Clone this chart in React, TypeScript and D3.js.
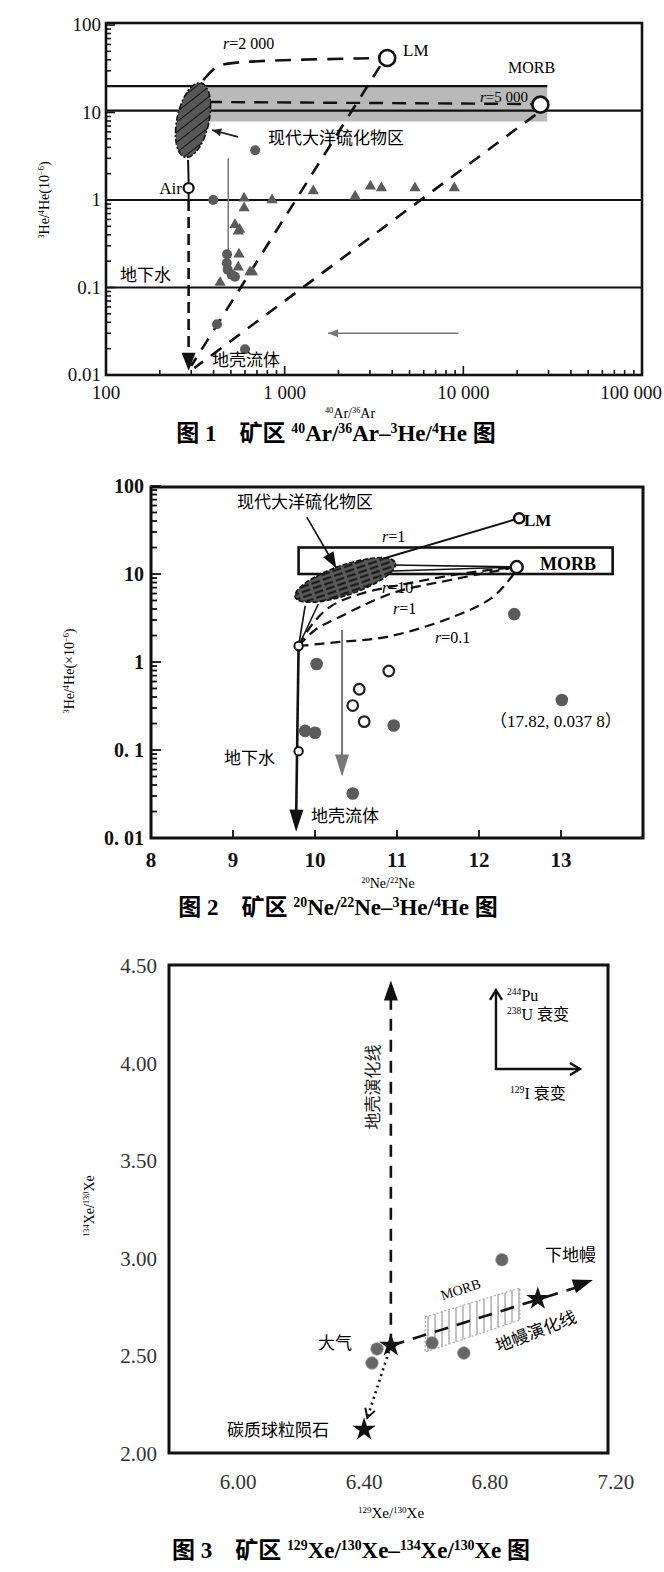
import * as d3 from 'd3';

type P = [number, number];

const FONT = '"Liberation Serif", "Noto Sans CJK SC", serif';

// ---------------- 图1  40Ar/36Ar – 3He/4He ----------------
const arTickVals = [100, 1000, 10000, 100000];
const arTickText = ['100', '1 000', '10 000', '100 000'];
const heTickVals = [0.01, 0.1, 1, 10, 100];
const he1TickText = ['0.01', '0.1', '1', '10', '100'];

const arCircles: P[] = [
  [684, 3.7], [398, 1.0], [476, 0.24], [474, 0.19], [480, 0.16], [505, 0.14], [527, 0.133], [418, 0.038], [600, 0.0197],
];
const arTriangles: P[] = [
  [1446, 1.27], [593, 1.05], [850, 1.0], [593, 0.81], [527, 0.52], [560, 0.46], [550, 0.44], [555, 0.24],
  [550, 0.17], [640, 0.15], [660, 0.15], [435, 0.114], [3020, 1.44], [3480, 1.37], [5360, 1.37], [8900, 1.37], [2480, 1.1],
];
const arBandX = [373, 29500];
const arBandY = [7.9, 20];
const arRefLines = [
  { x0: 100, x1: 29500, y: 20 },
  { x0: 100, x1: 100000, y: 10.5 },
  { x0: 100, x1: 100000, y: 1 },
  { x0: 100, x1: 100000, y: 0.1 },
];
const arR2000: P[] = [[350, 23.5], [403, 32.3], [464, 38.8], [3640, 42]];
const arR5000: P[] = [[373, 13.2], [25000, 12.5]];
const arLmMix: P[] = [[3420, 33.9], [300, 0.0127]];
const arMorbMix: P[] = [[25300, 9.4], [312, 0.012]];
const arSulfide: P = [307, 8.2];
const arSulfideToAir: P[] = [[288, 2.86], [290, 1.6]];
const arAir: P = [290, 1.37];
const arAirSolid: P[] = [[290, 1.2], [290, 1.0]];
const arAirDashed: P[] = [[290, 1.0], [290, 0.0125]];
const arCrustTip: P = [290, 0.0112];
const arLM: P = [3750, 42];
const arMORB: P = [27000, 12.3];
const arGrayDown: P[] = [[483, 3.0], [483, 0.2]];
const arGrayLeft: P[] = [[9380, 0.03], [1750, 0.03]];
const arLabelArrow: P[] = [[548, 5.25], [393, 6.3]];

// ---------------- 图2  20Ne/22Ne – 3He/4He ----------------
const neTickVals = [8, 9, 10, 11, 12, 13];
const he2TickText = ['0. 01', '0. 1', '1', '10', '100'];
const neFilled: P[] = [
  [10.02, 0.95], [9.88, 0.165], [10.0, 0.157], [10.96, 0.19], [10.46, 0.032], [13.01, 0.37], [12.43, 3.5],
];
const neOpen: P[] = [[10.9, 0.79], [10.54, 0.49], [10.46, 0.32], [10.6, 0.21]];
const neAir: P = [9.8, 1.52];
const neGroundwater: P = [9.8, 0.097];
const neCrustTip: P = [9.77, 0.0118];
const neLM: P = [12.49, 43];
const neMORB: P = [12.46, 12.0];
const neMorbBoxX = [9.8, 13.63];
const neMorbBoxY = [10, 20];
const neSulfide: P = [10.37, 8.55];
const neFeeders: P[][] = [
  [[9.8, 1.52], [9.88, 4.33]],
  [[9.8, 1.52], [10.04, 4.56]],
];
const neToLM: P[] = [[10.2, 10], [12.49, 43]];
const neToMORB: P[][] = [
  [[10.95, 12.66], [12.46, 12.0]],
  [[10.95, 10.8], [12.46, 12.0]],
];
const neR10: P[] = [[9.8, 1.52], [9.96, 2.63], [10.18, 4.22], [10.55, 5.93], [11.04, 7.5], [11.85, 10.3], [12.46, 12.0]];
const neR1: P[] = [[9.8, 1.52], [10.0, 2.31], [10.3, 3.25], [10.95, 6.08], [11.65, 8.55], [12.46, 12.0]];
const neR01: P[] = [[9.8, 1.52], [10.3, 1.69], [10.88, 1.93], [11.68, 3.25], [12.17, 5.48], [12.46, 11.1]];
const neGrayArrow: P[] = [[10.33, 2.31], [10.33, 0.05]];
const neLabelArrow: P[] = [[9.9, 44.4], [10.26, 11.7]];

// ---------------- 图3  129Xe/130Xe – 134Xe/130Xe ----------------
const xeXTicks = [6.0, 6.4, 6.8, 7.2];
const xeYTicks = [2.0, 2.5, 3.0, 3.5, 4.0, 4.5];
const xeSamples: P[] = [[6.838, 2.99], [6.616, 2.564], [6.717, 2.512], [6.441, 2.533], [6.425, 2.461]];
const xeAtmosphere: P = [6.485, 2.55];
const xeChondrite: P = [6.4, 2.12];
const xeLowerMantle: P = [6.952, 2.79];
const xeCrustTip: P = [6.485, 4.42];
const xeMantleTip: P = [7.127, 2.886];
const xeChondriteTip: P = [6.41, 2.18];
const xeMorbBox: P[] = [[6.594, 2.697], [6.895, 2.845], [6.895, 2.681], [6.594, 2.517]];
const xeDecayCorner: P = [6.819, 3.967];
const xeDecayUp: P = [6.819, 4.372];
const xeDecayRight: P = [7.086, 3.967];

// ---------- helpers ----------
function Rich({ s, size }: { s: string; size: number }) {
  const parts = s.split(/(\{[^}]*\})/).filter((p) => p !== '');
  const shift = size * 0.36;
  let raised = false;
  return (
    <>
      {parts.map((p, i) => {
        const sup = p.startsWith('{');
        const txt = sup ? p.slice(1, -1) : p;
        let dy = 0;
        if (sup && !raised) { dy = -shift; raised = true; }
        else if (!sup && raised) { dy = shift; raised = false; }
        return (
          <tspan key={i} dy={dy || undefined} fontSize={sup ? size * 0.6 : size}>{txt}</tspan>
        );
      })}
    </>
  );
}

function head(t: P, f: P, len: number, hw: number) {
  const a = Math.atan2(t[1] - f[1], t[0] - f[0]);
  const bx = t[0] - len * Math.cos(a);
  const by = t[1] - len * Math.sin(a);
  const px = -Math.sin(a) * hw;
  const py = Math.cos(a) * hw;
  return `${t[0]},${t[1]} ${bx + px},${by + py} ${bx - px},${by - py}`;
}

function openHead(t: P, f: P, len: number, hw: number) {
  const a = Math.atan2(t[1] - f[1], t[0] - f[0]);
  const bx = t[0] - len * Math.cos(a);
  const by = t[1] - len * Math.sin(a);
  const px = -Math.sin(a) * hw;
  const py = Math.cos(a) * hw;
  return `${bx + px},${by + py} ${t[0]},${t[1]} ${bx - px},${by - py}`;
}

const isMajor = (v: number) => Math.abs(Math.log10(v) - Math.round(Math.log10(v))) < 1e-6;

// ---------- 图1 ----------
function Fig1() {
  const x = d3.scaleLog().domain([100, 100000]).range([106, 642]);
  const y = d3.scaleLog().domain([0.01, 100]).range([375, 25]);
  const line = d3.line<P>().x((d) => x(d[0])).y((d) => y(d[1]));
  const curve = d3.line<P>().x((d) => x(d[0])).y((d) => y(d[1])).curve(d3.curveBasis);
  const pt = (d: P): P => [x(d[0]), y(d[1])];
  const tri = d3.symbol(d3.symbolTriangle, 55)()!;
  const [L, R, T, B] = [106, 642, 23, 375];
  const airDashEnd = pt(arAirDashed[1]);
  const tip = pt(arCrustTip);
  const grayL = arGrayLeft.map(pt);
  const labA = arLabelArrow.map(pt);
  return (
    <g fontFamily={FONT}>
      <rect x={x(arBandX[0])} y={y(arBandY[1])} width={x(arBandX[1]) - x(arBandX[0])}
        height={y(arBandY[0]) - y(arBandY[1])} fill="#b9b9b9" />
      {arRefLines.map((l, i) => (
        <line key={i} x1={x(l.x0)} x2={x(l.x1)} y1={y(l.y)} y2={y(l.y)} stroke="#111" strokeWidth={2.2} />
      ))}
      <path d={line(arR5000)!} fill="none" stroke="#111" strokeWidth={2.4} strokeDasharray="14 9" />
      <path d={curve(arR2000)!} fill="none" stroke="#111" strokeWidth={2.6} strokeDasharray="16 10" />
      <path d={line(arLmMix)!} fill="none" stroke="#111" strokeWidth={2.6} strokeDasharray="13 10" />
      <path d={line(arMorbMix)!} fill="none" stroke="#111" strokeWidth={2.6} strokeDasharray="13 10" />
      <path d={line(arSulfideToAir)!} fill="none" stroke="#111" strokeWidth={2} />
      <path d={line(arAirSolid)!} fill="none" stroke="#111" strokeWidth={2} />
      <line x1={x(arAirDashed[0][0])} x2={airDashEnd[0]} y1={y(arAirDashed[0][1])} y2={airDashEnd[1] - 10}
        stroke="#111" strokeWidth={2.6} strokeDasharray="11 6" />
      <polygon points={head(tip, [tip[0], tip[1] - 30], 18, 7)} fill="#111" />
      <ellipse cx={x(arSulfide[0])} cy={y(arSulfide[1])} rx={16} ry={38}
        transform={`rotate(12 ${x(arSulfide[0])} ${y(arSulfide[1])})`}
        fill="url(#hatch1)" stroke="#111" strokeWidth={1.6} strokeDasharray="6 2 2 2" />
      <path d={line(arGrayDown)!} fill="none" stroke="#777" strokeWidth={1.5} />
      <path d={line(arGrayLeft)!} fill="none" stroke="#777" strokeWidth={1.6} />
      <polygon points={head(grayL[1], grayL[0], 10, 4)} fill="#777" />
      <line x1={labA[0][0]} y1={labA[0][1]} x2={labA[1][0]} y2={labA[1][1]} stroke="#222" strokeWidth={1.8} />
      <polygon points={head(labA[1], labA[0], 9, 4)} fill="#222" />
      {arCircles.map((d, i) => (
        <circle key={i} cx={x(d[0])} cy={y(d[1])} r={5} fill="#5b5b5b" />
      ))}
      {arTriangles.map((d, i) => (
        <path key={i} d={tri} transform={`translate(${x(d[0])},${y(d[1])})`} fill="#5b5b5b" />
      ))}
      <circle cx={x(arAir[0])} cy={y(arAir[1])} r={5} fill="#fff" stroke="#111" strokeWidth={2.2} />
      <circle cx={x(arLM[0])} cy={y(arLM[1])} r={8} fill="#fff" stroke="#111" strokeWidth={2.6} />
      <circle cx={x(arMORB[0])} cy={y(arMORB[1])} r={8} fill="#fff" stroke="#111" strokeWidth={2.6} />

      {/* frame & ticks */}
      <rect x={L} y={T} width={R - L} height={B - T} fill="none" stroke="#111" strokeWidth={2.6} />
      {y.ticks().map((v, i) => (
        <line key={i} x1={L} x2={L + (isMajor(v) ? 9 : 5)} y1={y(v)} y2={y(v)} stroke="#111" strokeWidth={1.6} />
      ))}
      {x.ticks().filter((v) => v > 100 && v < 100000).map((v, i) => (
        <line key={i} y1={B} y2={B - (isMajor(v) ? 9 : 5)} x1={x(v)} x2={x(v)} stroke="#111" strokeWidth={1.6} />
      ))}
      {heTickVals.map((v, i) => (
        <text key={i} x={101} y={y(v) + 6} textAnchor="end" fontSize={19} fill="#111">{he1TickText[i]}</text>
      ))}
      {arTickVals.map((v, i) => {
        const last = i === arTickVals.length - 1;
        return (
          <text key={i} x={last ? 662 : x(v)} y={399} textAnchor={last ? 'end' : 'middle'} fontSize={19} fill="#111">
            {arTickText[i]}
          </text>
        );
      })}

      {/* labels */}
      <text x={223} y={49} fontSize={16}><tspan fontStyle="italic">r</tspan>=2 000</text>
      <text x={403} y={56} fontSize={17}>LM</text>
      <text x={508} y={73} fontSize={16}>MORB</text>
      <text x={480} y={102} fontSize={15}><tspan fontStyle="italic">r</tspan>=5 000</text>
      <text x={268} y={144} fontSize={17}>现代大洋硫化物区</text>
      <text x={182} y={194} fontSize={17} textAnchor="end">Air</text>
      <text x={120} y={281} fontSize={17}>地下水</text>
      <text x={212} y={366} fontSize={17}>地壳流体</text>
      <text transform="translate(49,200) rotate(-90)" textAnchor="middle" fontSize={14}>
        <Rich s="{3}He/{4}He(10{−6})" size={14} />
      </text>
      <text x={350} y={418} textAnchor="middle" fontSize={14}>
        <Rich s="{40}Ar/{36}Ar" size={14} />
      </text>
      <text x={336} y={441} textAnchor="middle" fontSize={23} fontWeight="bold">
        <Rich s="图 1　矿区 {40}Ar/{36}Ar–{3}He/{4}He 图" size={23} />
      </text>
    </g>
  );
}

// ---------- 图2 ----------
function Fig2() {
  const x = d3.scaleLinear().domain([8, 14]).range([151, 643]);
  const y = d3.scaleLog().domain([0.01, 100]).range([838, 486]);
  const line = d3.line<P>().x((d) => x(d[0])).y((d) => y(d[1]));
  const curve = d3.line<P>().x((d) => x(d[0])).y((d) => y(d[1])).curve(d3.curveCatmullRom);
  const pt = (d: P): P => [x(d[0]), y(d[1])];
  const [L, R, T, B] = [151, 643, 487, 838];
  const air = pt(neAir);
  const tip = pt(neCrustTip);
  const g = neGrayArrow.map(pt);
  const la = neLabelArrow.map(pt);
  return (
    <g fontFamily={FONT}>
      <rect x={x(neMorbBoxX[0])} y={y(neMorbBoxY[1])} width={x(neMorbBoxX[1]) - x(neMorbBoxX[0])}
        height={y(neMorbBoxY[0]) - y(neMorbBoxY[1])} fill="none" stroke="#111" strokeWidth={2.6} />
      {neFeeders.map((l, i) => (
        <path key={i} d={line(l)!} fill="none" stroke="#111" strokeWidth={1.6} />
      ))}
      <path d={line(neToLM)!} fill="none" stroke="#111" strokeWidth={2} />
      {neToMORB.map((l, i) => (
        <path key={i} d={line(l)!} fill="none" stroke="#111" strokeWidth={1.6} />
      ))}
      <path d={curve(neR10)!} fill="none" stroke="#111" strokeWidth={2.2} strokeDasharray="10 6" />
      <path d={curve(neR1)!} fill="none" stroke="#111" strokeWidth={2.2} strokeDasharray="10 6" />
      <path d={curve(neR01)!} fill="none" stroke="#111" strokeWidth={2.2} strokeDasharray="10 6" />
      <ellipse cx={x(neSulfide[0])} cy={y(neSulfide[1])} rx={53} ry={15}
        transform={`rotate(-19 ${x(neSulfide[0])} ${y(neSulfide[1])})`}
        fill="url(#hatch2)" stroke="#111" strokeWidth={1.6} strokeDasharray="5 2" />
      <line x1={air[0]} y1={air[1]} x2={tip[0]} y2={tip[1] - 14} stroke="#111" strokeWidth={2.6} />
      <polygon points={head(tip, air, 22, 7)} fill="#111" />
      <line x1={g[0][0]} y1={g[0][1]} x2={g[1][0]} y2={g[1][1] - 12} stroke="#777" strokeWidth={2} />
      <polygon points={head(g[1], g[0], 22, 7)} fill="#777" />
      <line x1={la[0][0]} y1={la[0][1]} x2={la[1][0]} y2={la[1][1]} stroke="#111" strokeWidth={1.6} />
      <polygon points={head(la[1], la[0], 16, 6)} fill="#111" />
      {neFilled.map((d, i) => (
        <circle key={i} cx={x(d[0])} cy={y(d[1])} r={6.3} fill="#5b5b5b" />
      ))}
      {neOpen.map((d, i) => (
        <circle key={i} cx={x(d[0])} cy={y(d[1])} r={5.3} fill="#fff" stroke="#222" strokeWidth={2.2} />
      ))}
      <circle cx={air[0]} cy={air[1]} r={4.2} fill="#fff" stroke="#111" strokeWidth={2} />
      <circle cx={x(neGroundwater[0])} cy={y(neGroundwater[1])} r={4.2} fill="#fff" stroke="#111" strokeWidth={2} />
      <circle cx={x(neLM[0])} cy={y(neLM[1])} r={5} fill="#fff" stroke="#111" strokeWidth={2.4} />
      <circle cx={x(neMORB[0])} cy={y(neMORB[1])} r={6} fill="#fff" stroke="#111" strokeWidth={2.4} />

      <rect x={L} y={T} width={R - L} height={B - T} fill="none" stroke="#111" strokeWidth={3} />
      {y.ticks().map((v, i) => (
        <line key={i} x1={L} x2={L + (isMajor(v) ? 10 : 6)} y1={y(v)} y2={y(v)} stroke="#111" strokeWidth={1.8} />
      ))}
      {neTickVals.filter((v) => v > 8).map((v, i) => (
        <line key={i} x1={x(v)} x2={x(v)} y1={B} y2={B - 8} stroke="#111" strokeWidth={1.8} />
      ))}
      {heTickVals.map((v, i) => (
        <text key={i} x={144} y={y(v) + 7} textAnchor="end" fontSize={20} fontWeight="bold" fill="#111">
          {he2TickText[i]}
        </text>
      ))}
      {neTickVals.map((v, i) => (
        <text key={i} x={x(v)} y={867} textAnchor="middle" fontSize={21} fontWeight="bold" fill="#111">{v}</text>
      ))}

      <text x={237} y={508} fontSize={17}>现代大洋硫化物区</text>
      <text x={382} y={542} fontSize={16}><tspan fontStyle="italic">r</tspan>=1</text>
      <text x={382} y={593} fontSize={16}><tspan fontStyle="italic">r</tspan>=10</text>
      <text x={393} y={614} fontSize={16}><tspan fontStyle="italic">r</tspan>=1</text>
      <text x={435} y={643} fontSize={16}><tspan fontStyle="italic">r</tspan>=0.1</text>
      <text x={524} y={526} fontSize={17} fontWeight="bold">LM</text>
      <text x={540} y={570} fontSize={18} fontWeight="bold">MORB</text>
      <text x={490} y={727} fontSize={17}>（17.82, 0.037 8）</text>
      <text x={224} y={764} fontSize={17}>地下水</text>
      <text x={311} y={822} fontSize={17}>地壳流体</text>
      <text transform="translate(74,671) rotate(-90)" textAnchor="middle" fontSize={14}>
        <Rich s="{3}He/{4}He(×10{−6})" size={14} />
      </text>
      <text x={388} y={888} textAnchor="middle" fontSize={14}>
        <Rich s="{20}Ne/{22}Ne" size={14} />
      </text>
      <text x={338} y={915} textAnchor="middle" fontSize={23} fontWeight="bold">
        <Rich s="图 2　矿区 {20}Ne/{22}Ne–{3}He/{4}He 图" size={23} />
      </text>
    </g>
  );
}

// ---------- 图3 ----------
function Fig3() {
  const x = d3.scaleLinear().domain([5.78, 7.175]).range([169, 608]);
  const y = d3.scaleLinear().domain([2.0, 4.5]).range([1453, 965]);
  const pt = (d: P): P => [x(d[0]), y(d[1])];
  const star = d3.symbol(d3.symbolStar, 170)()!;
  const [L, R, T, B] = [169, 608, 965, 1453];
  const atm = pt(xeAtmosphere);
  const ct = pt(xeCrustTip);
  const mt = pt(xeMantleTip);
  const cht = pt(xeChondriteTip);
  const dc = pt(xeDecayCorner);
  const du = pt(xeDecayUp);
  const dr = pt(xeDecayRight);
  const box = xeMorbBox.map(pt);
  return (
    <g fontFamily={FONT}>
      <polygon points={box.map((p) => p.join(',')).join(' ')} fill="url(#hatch3)" stroke="#aaa"
        strokeWidth={1.2} strokeDasharray="2 2" />
      <line x1={atm[0]} y1={atm[1]} x2={ct[0]} y2={ct[1] + 14} stroke="#111" strokeWidth={2.6} strokeDasharray="12 9" />
      <polygon points={head(ct, atm, 20, 7)} fill="#111" />
      <line x1={atm[0]} y1={atm[1]} x2={mt[0] - 12} y2={mt[1] + 6} stroke="#111" strokeWidth={2.6} strokeDasharray="14 9" />
      <polygon points={head(mt, atm, 20, 7)} fill="#111" />
      <line x1={atm[0]} y1={atm[1]} x2={cht[0]} y2={cht[1]} stroke="#111" strokeWidth={2.6} strokeDasharray="2 4" />
      <polyline points={openHead(cht, atm, 9, 5)} fill="none" stroke="#111" strokeWidth={2} />
      {xeSamples.map((d, i) => (
        <circle key={i} cx={x(d[0])} cy={y(d[1])} r={6.2} fill="#666" stroke="#888" strokeWidth={0.8} />
      ))}
      {[xeAtmosphere, xeChondrite, xeLowerMantle].map((d, i) => (
        <path key={i} d={star} transform={`translate(${x(d[0])},${y(d[1])})`} fill="#111" />
      ))}
      <line x1={dc[0]} y1={dc[1]} x2={du[0]} y2={du[1]} stroke="#111" strokeWidth={2.4} />
      <line x1={dc[0] - 1.2} y1={dc[1]} x2={dr[0]} y2={dr[1]} stroke="#111" strokeWidth={2.4} />
      <polyline points={openHead(du, dc, 10, 6)} fill="none" stroke="#111" strokeWidth={2.4} />
      <polyline points={openHead(dr, dc, 10, 6)} fill="none" stroke="#111" strokeWidth={2.4} />

      <rect x={L} y={T} width={R - L} height={B - T} fill="none" stroke="#111" strokeWidth={3} />
      {xeYTicks.map((v, i) => (
        <text key={i} x={157} y={y(v) + 8} textAnchor="end" fontSize={21} fill="#333">{v.toFixed(2)}</text>
      ))}
      {xeXTicks.map((v, i) => (
        <text key={i} x={x(v)} y={1489} textAnchor="middle" fontSize={21} fill="#333">{v.toFixed(2)}</text>
      ))}

      <text transform="translate(379,1087) rotate(-90)" textAnchor="middle" fontSize={17} fill="#222">地壳演化线</text>
      <text x={507} y={1001} fontSize={16}><Rich s="{244}Pu" size={16} /></text>
      <text x={507} y={1020} fontSize={16}><Rich s="{238}U 衰变" size={16} /></text>
      <text x={510} y={1099} fontSize={16}><Rich s="{129}I 衰变" size={16} /></text>
      <text x={545} y={1261} fontSize={17}>下地幔</text>
      <text transform="translate(462,1294) rotate(-18)" textAnchor="middle" fontSize={14}>MORB</text>
      <text transform="translate(538,1337) rotate(-21)" textAnchor="middle" fontSize={17}>地幔演化线</text>
      <text x={318} y={1349} fontSize={17}>大气</text>
      <text x={227} y={1436} fontSize={17}>碳质球粒陨石</text>
      <text transform="translate(94,1206) rotate(-90)" textAnchor="middle" fontSize={14}>
        <Rich s="{134}Xe/{130}Xe" size={14} />
      </text>
      <text x={391} y={1518} textAnchor="middle" fontSize={15}>
        <Rich s="{129}Xe/{130}Xe" size={15} />
      </text>
      <text x={351} y={1558} textAnchor="middle" fontSize={23} fontWeight="bold">
        <Rich s="图 3　矿区 {129}Xe/{130}Xe–{134}Xe/{130}Xe 图" size={23} />
      </text>
    </g>
  );
}

export default function App() {
  return (
    <div style={{ position: 'absolute', left: 0, top: 0, width: 664, height: 1572, background: '#fff' }}>
      <svg width={664} height={1572} style={{ display: 'block' }}>
        <defs>
          <pattern id="hatch1" patternUnits="userSpaceOnUse" width={8} height={8} patternTransform="rotate(40)">
            <rect width={8} height={8} fill="#575757" />
            <line x1={0} y1={0} x2={0} y2={8} stroke="#111" strokeWidth={2} />
          </pattern>
          <pattern id="hatch2" patternUnits="userSpaceOnUse" width={12} height={5}>
            <rect width={12} height={5} fill="#5a5a5a" />
            <line x1={0} y1={2.5} x2={9} y2={2.5} stroke="#111" strokeWidth={2} />
          </pattern>
          <pattern id="hatch3" patternUnits="userSpaceOnUse" width={7} height={10}>
            <rect width={7} height={10} fill="#fff" />
            <line x1={1} y1={0} x2={1} y2={10} stroke="#999" strokeWidth={1.2} />
          </pattern>
        </defs>
        <rect width={664} height={1572} fill="#fff" />
        <Fig1 />
        <Fig2 />
        <Fig3 />
      </svg>
    </div>
  );
}
